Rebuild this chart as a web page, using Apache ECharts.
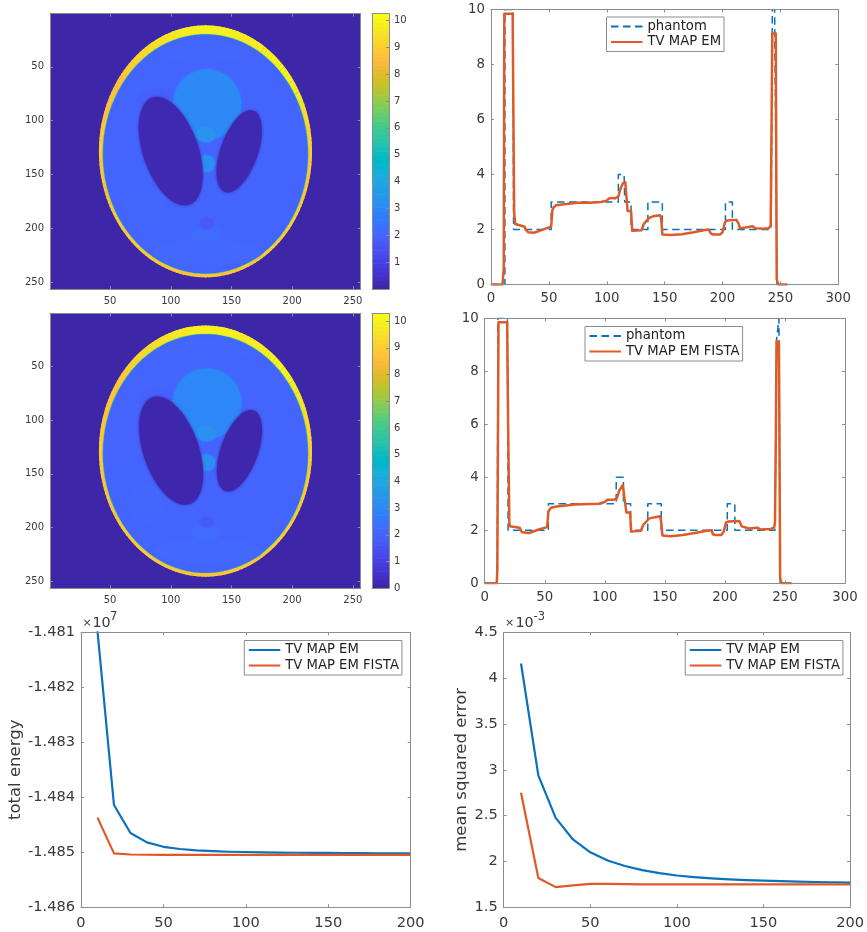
<!DOCTYPE html>
<html><head><meta charset="utf-8">
<style>html,body{margin:0;padding:0;background:#fff}#c{width:867px;height:932px}</style>
<script src="https://cdn.jsdelivr.net/npm/echarts@6/dist/echarts.min.js"></script>
</head><body><div id="c"></div>
<script>
// ---------- data ----------
const parula=[[.2422,.1504,.6603],[.2504,.165,.7076],[.2578,.1818,.7511],[.2647,.1978,.7952],[.2706,.2147,.8364],[.2751,.2342,.871],[.2783,.2559,.8991],[.2803,.2782,.9221],[.2813,.3006,.9414],[.281,.3228,.9579],[.2795,.3447,.9717],[.276,.3667,.9829],[.2699,.3892,.9906],[.2602,.4123,.9952],[.244,.4358,.9988],[.2206,.4603,.9973],[.1963,.4847,.9892],[.1834,.5074,.9798],[.1786,.5289,.9682],[.1764,.5499,.952],[.1687,.5703,.9359],[.154,.5902,.9218],[.146,.6091,.9079],[.138,.6276,.8973],[.1248,.6459,.8883],[.1113,.6635,.8763],[.0952,.6798,.8598],[.0689,.6948,.8394],[.0297,.7082,.8163],[.0036,.7203,.7917],[.0067,.7312,.766],[.0433,.7411,.7394],[.0964,.75,.712],[.1408,.7584,.6842],[.1717,.767,.6554],[.1938,.7758,.6251],[.2161,.7843,.5923],[.247,.7918,.5567],[.2906,.7973,.5188],[.3406,.8008,.4789],[.3909,.8029,.4354],[.4456,.8024,.3909],[.5044,.7993,.348],[.5616,.7942,.3045],[.6174,.7876,.2612],[.672,.7793,.2227],[.7242,.7698,.191],[.7738,.7598,.1646],[.8203,.7498,.1535],[.8634,.7406,.1596],[.9035,.733,.1774],[.9393,.7288,.21],[.9728,.7298,.2394],[.9956,.7434,.2371],[.997,.7659,.2199],[.9952,.7893,.2028],[.9892,.8136,.1885],[.9786,.8386,.1766],[.9676,.8639,.1643],[.961,.889,.1537],[.9597,.9135,.1423],[.9628,.9373,.1265],[.9691,.9606,.1064],[.9769,.9839,.0805]];

const imageTicks=[50,100,150,200,250];
const colorTicksEM=[1,2,3,4,5,6,7,8,9,10];
const colorTicksFISTA=[0,1,2,3,4,5,6,7,8,9,10];

// ring colour values clockwise from the top, one per 10 degrees
const ringEM=[10,10,9.8,9.9,10.1,10.1,9.9,9.5,9.1,8.9,8.8,8.8,9,9.1,9.1,9,8.9,8.8,8.8,8.8,8.9,9,9,9,8.9,8.7,8.8,9,8.9,8.7,8.7,9,9.3,9.5,9.7,9.9];
const ringFISTA=[10,10,9.8,9.9,10.1,10.1,9.9,9.5,9.2,9,8.9,8.9,9,9.1,9.1,9,8.9,8.8,8.8,8.8,8.9,9,9,9,8.9,8.8,8.9,9,8.9,8.8,8.8,9,9.3,9.5,9.7,9.9];
// outer ellipse of the head: cx, cy, rx, ry
const headEM=[128.6,128.6,87.8,117.1];
const headFISTA=[128.6,128.8,87.8,116.9];
// regions: cx, cy, rx, ry, tilt in degrees, value
const regionsEM=[
 [128.6,131,84.7,111.4,0,6],[128.6,131,84.2,110.9,0,2],
 [128,36,38,10,0,2.06],[130,222,45,12,0,2.08],[60,105,9,24,0,1.95],[78,178,16,18,0,2.04],
 [88,80,14,8,0,1.9],
 [130,85,28,32.6,0,3],[129,113,8,7,0,3.3],[129.5,140,7,7.7,0,3.15],
 [100,128.4,23,52,-16,.12],[156.4,128.6,15.5,39.6,16.5,.12],
 [129.5,206,12,7,0,2.2],[129.5,195.5,5.5,5.2,0,1.7]];
const regionsFISTA=[
 [128.6,131,84.7,111.4,0,6],[128.6,131,84.2,110.9,0,2],
 [128,36,36,10,0,2.06],[130,222,45,12,0,2.08],[60,105,9,24,0,1.95],[80,178,16,18,0,2.04],
 [88,80,14,8,0,1.9],
 [130,84.4,28.2,32.6,0,2.95],[129,112.6,8,7,0,3.25],[129.5,139.5,7,7.7,0,3.15],
 [100.3,128.4,23,52,-16,.05],[156.6,128.4,15.5,39.3,16.5,.05],
 [129.5,205,12,7,0,2.2],[129.5,194.8,5.5,5,0,1.7]];

const phantomA=[[0,0],[12,0],[12,10],[19,10],[19.5,2],[52,2],[52,3],[110,3],[110,4],[115,4],[115.5,3],[121,3],[121,2],[135.5,2],[135.5,3],[148,3],[148,2],[202.5,2],[202.5,3],[208.5,3],[208.5,2],[242,2],[243,10],[245,10],[247,0],[256,0]];
const reconA=[[0,0],[10,0],[11,.6],[11.5,9.85],[18.7,9.85],[20,2.6],[21,2.2],[22,2.15],[29,2.1],[30,2],[32,1.9],[37,1.88],[42,1.95],[47,2.03],[52,2.1],[53,2.7],[54,2.8],[56,2.88],[65,2.93],[75,2.97],[85,2.97],[95,3],[100,3.05],[102,3.13],[105,3.15],[107,3.13],[110,3.2],[112,3.5],[114,3.68],[116,3.72],[117,3.2],[118,2.67],[121,2.67],[122,1.95],[130,1.97],[132,2.2],[135,2.35],[137,2.43],[140,2.48],[146,2.52],[147,2.4],[148,1.82],[155,1.8],[165,1.83],[175,1.9],[185,1.98],[188,2],[190,1.85],[192,1.82],[198,1.82],[200,1.9],[202,2.25],[204,2.33],[212,2.35],[214,2.2],[215,2.05],[220,2.07],[226,2.12],[228,2.05],[235,2.03],[240,2.05],[241.6,2.15],[242.5,6.7],[243,9.13],[246,9.13],[246.8,.2],[248,0],[256,0]];
const phantomB=[[0,0],[10.5,0],[11,10],[18.9,10],[19.5,2],[53,2],[53,3],[109.5,3],[109.5,4],[115.5,4],[115.5,3],[121.5,3],[121.5,2],[135.8,2],[135.8,3],[147,3],[147,2],[202,2],[202,3],[208.3,3],[208.3,2],[241.7,2],[243,9.2],[245,10],[246,0],[255,0]];
const reconB=[[0,0],[10,0],[10.5,.5],[11.5,9.85],[18.7,9.85],[19.5,6],[20.5,2.3],[21,2.15],[29,2.1],[31,1.93],[37,1.9],[45,2.03],[52,2.12],[53,2.7],[55,2.85],[60,2.9],[75,2.97],[95,3],[100,3.07],[102,3.15],[107,3.15],[110,3.2],[112,3.5],[115,3.7],[116,3.73],[117,3],[118,2.67],[121,2.67],[122,1.95],[130,1.98],[132,2.2],[135,2.35],[137,2.45],[146,2.53],[147,2.3],[148,1.8],[155,1.78],[165,1.82],[175,1.9],[185,1.98],[189,2],[190,1.85],[192,1.82],[197,1.82],[199,1.95],[201,2.3],[203,2.33],[212,2.35],[214,2.15],[220,2.07],[227,2.1],[230,2.03],[238,2.05],[241,2.1],[241.7,2.3],[242.3,5],[243,9.12],[245,9.12],[246,.2],[247,0],[255.5,0]];

const iterations=[10,20,30,40,50,60,70,80,90,100,110,120,130,140,150,160,170,180,190,200];
const energyEM=[-1.48098,-1.48414,-1.48465,-1.48482,-1.4849,-1.48494,-1.484965,-1.48498,-1.48499,-1.484995,-1.485,-1.485005,-1.485008,-1.48501,-1.485012,-1.485014,-1.485016,-1.485018,-1.485019,-1.48502];
const energyFISTA=[-1.48437,-1.48502,-1.48504,-1.485045,-1.485045,-1.485045,-1.485045,-1.485045,-1.485045,-1.485045,-1.485045,-1.485045,-1.485045,-1.485045,-1.485045,-1.485045,-1.485045,-1.485045,-1.485045,-1.485045];
const mseEM=[4.16,2.94,2.475,2.24,2.1,2.01,1.95,1.905,1.872,1.847,1.83,1.816,1.805,1.796,1.79,1.785,1.78,1.776,1.773,1.77];
const mseFISTA=[2.75,1.82,1.72,1.74,1.755,1.755,1.752,1.751,1.75,1.75,1.75,1.75,1.75,1.75,1.75,1.75,1.75,1.75,1.75,1.75];

// ---------- helpers ----------
const AX='#8c8c8c', TXT='#3a3a3a', FONT='"DejaVu Sans"', BLUE='#0a72bd', ORANGE='#de5a26';
function colorOf(v,vmax){
 const t=Math.max(0,Math.min(1,v/vmax))*63,i=Math.min(62,Math.floor(t)),f=t-i;
 return 'rgb('+[0,1,2].map(n=>Math.round((parula[i][n]*(1-f)+parula[i+1][n]*f)*255)).join(',')+')';}
const VMAX=10.27;
const grids=[],xAxes=[],yAxes=[],series=[];
function panel(g,xo,yo,fs,marg,xmarg){
 const i=grids.length;
 grids.push(Object.assign({show:true,borderWidth:0},g));
 const base=(o,showLabel,pos,m)=>Object.assign({
   gridIndex:i,type:'value',position:pos,z:5,splitLine:{show:false},
   axisLine:{show:true,onZero:false,lineStyle:{color:AX,width:1}},
   axisTick:{show:true,inside:true,length:3,lineStyle:{color:AX}},
   axisLabel:{show:showLabel,color:TXT,fontFamily:FONT,fontSize:fs,margin:m,hideOverlap:false,showMinLabel:true,showMaxLabel:true},
 },o);
 const xi=xAxes.length, yi=yAxes.length;
 const xm=JSON.parse(JSON.stringify(xo)), ym=JSON.parse(JSON.stringify(yo));
 const fx=xo.fmt, fy=yo.fmt; delete xo.fmt; delete yo.fmt; delete xm.fmt; delete ym.fmt;
 const xa=base(xo,xo.noLabel?false:true,'bottom',xmarg), ya=base(yo,yo.noLabel?false:true,yo.pos||'left',marg);
 if(xo.custom){xa.axisLabel.customValues=xo.custom;xa.axisTick.customValues=xo.custom;}
 if(yo.custom){ya.axisLabel.customValues=yo.custom;ya.axisTick.customValues=yo.custom;}
 if(fy)ya.axisLabel.formatter=fy; if(fx)xa.axisLabel.formatter=fx;
 if(xo.noTick)xa.axisTick.show=false;
 if(yo.nameText){ya.name=yo.nameText;ya.nameLocation='middle';ya.nameRotate=90;ya.nameGap=yo.nameGap;ya.nameTextStyle={color:TXT,fontFamily:FONT,fontSize:16.5};}
 const xb=base(xm,false,'top',0), yb=base(ym,false,yo.pos==='right'?'left':'right',0);
 if(xo.custom)xb.axisTick.customValues=xo.custom;
 if(yo.custom)yb.axisTick.customValues=yo.custom;
 if(xo.noTick)xb.axisTick.show=false;
 if(yo.pos==='right')yb.axisTick.show=false;
 xAxes.push(xa,xb);yAxes.push(ya,yb);
 return {xAxisIndex:xi,yAxisIndex:yi};
}
function imagePanel(g,ring,head,regions){
 const idx=panel(Object.assign({backgroundColor:colorOf(0,VMAX)},g),
  {min:.5,max:256.5,custom:imageTicks},{min:.5,max:256.5,inverse:true,custom:imageTicks},10,6,7);
 series.push(Object.assign({type:'custom',silent:true,clip:true,animation:false,z:2,
  data:ring.map((v,k)=>[k,v]),
  renderItem(p,api){
   const k=api.value(0),v=api.value(1),next=ring[(k+1)%ring.length],children=[];
   for(let j=0;j<5;j++){
    const pts=[api.coord([head[0],head[1]])];
    for(let a=k*10+j*2-.4;a<=k*10+j*2+2.4;a+=.7){const r=a*Math.PI/180;
     pts.push(api.coord([head[0]+head[2]*Math.sin(r),head[1]-head[3]*Math.cos(r)]));}
    children.push({type:'polygon',shape:{points:pts},style:{fill:colorOf(v+(next-v)*j/5,VMAX)}});
   }
   return {type:'group',children};
  }},idx));
 series.push(Object.assign({type:'custom',silent:true,clip:true,animation:false,z:3,
  data:regions,
  renderItem(p,api){
   const cx=api.value(0),cy=api.value(1),rx=api.value(2),ry=api.value(3),t=api.value(4)*Math.PI/180,v=api.value(5),pts=[];
   for(let a=0;a<360;a+=4){const r=a*Math.PI/180,ex=rx*Math.cos(r),ey=ry*Math.sin(r);
    pts.push(api.coord([cx+ex*Math.cos(t)-ey*Math.sin(t),cy+ex*Math.sin(t)+ey*Math.cos(t)]));}
   const c=colorOf(v,VMAX);
   return {type:'polygon',shape:{points:pts},style:{fill:c,shadowBlur:ry>100?.8:3,shadowColor:c}};
  }},idx));
}
function colorbar(g,vmin,vmax,ticks){
 const idx=panel(g,{min:0,max:1,noLabel:true,noTick:true,custom:[0,1]},{min:vmin,max:vmax,custom:ticks,pos:'right'},10,5,0);
 series.push(Object.assign({type:'custom',silent:true,animation:false,z:2,
  data:parula.map((c,k)=>[k]),
  renderItem(p,api){
   const k=api.value(0),step=(vmax-vmin)/64;
   const a=api.coord([0,vmin+k*step]),b=api.coord([1,vmin+(k+1)*step]);
   return {type:'rect',shape:{x:a[0],y:b[1],width:b[0]-a[0],height:a[1]-b[1]+.6},style:{fill:colorOf(k/63,1)}};
  }},idx));
}
const legends=[];
function legend(left,top,names){
 legends.push({left,top,orient:'vertical',padding:[3,3,3,3.5],itemGap:2.5,itemWidth:31.5,itemHeight:14,
  itemStyle:{opacity:0},
  borderColor:AX,borderWidth:1,backgroundColor:'#fff',borderRadius:0,z:20,selectedMode:false,
  textStyle:{fontFamily:FONT,fontSize:13.2,color:'#222'},data:names,formatter:n=>n.trim()});
}
function lineS(name,data,idx,color,width,dash){
 series.push(Object.assign({type:'line',name,data,showSymbol:false,symbol:'none',animation:false,silent:true,clip:true,z:3,
  lineStyle:{color,width,type:dash?[7.5,4.5]:'solid',join:'round'},itemStyle:{color}},idx));
}
const pair=(xs,ys)=>xs.map((x,i)=>[x,ys[i]]);

// ---------- panels ----------
imagePanel({left:50,top:13.5,width:310.7,height:275.5},ringEM,headEM,regionsEM);
colorbar({left:372,top:13.5,width:17,height:275.5},.01,10.25,colorTicksEM);
const p3=panel({left:491,top:9.5,width:347.3,height:275},{min:0,max:300,interval:50},{min:0,max:10,interval:2},13.3,6,8);
lineS('phantom',phantomA,p3,BLUE,1.5,true);
lineS('TV MAP EM ',reconA,p3,ORANGE,2.5,false);
legend(606.5,17,['phantom','TV MAP EM ']);

imagePanel({left:50,top:313.3,width:310.7,height:275},ringFISTA,headFISTA,regionsFISTA);
colorbar({left:372,top:313.3,width:17,height:275},0,10.29,colorTicksFISTA);
const p4=panel({left:484.7,top:318.3,width:360.3,height:265},{min:0,max:300,interval:50},{min:0,max:10,interval:2},13.3,6,8);
lineS('phantom',phantomB,p4,BLUE,1.5,true);
lineS('TV MAP EM FISTA',reconB,p4,ORANGE,2.5,false);
legend(585,326.5,['phantom','TV MAP EM FISTA']);

const p5=panel({left:81,top:632.3,width:329.7,height:275},{min:0,max:200,interval:50},
 {min:-1.486,max:-1.481,interval:.001,fmt:v=>v.toFixed(3),nameText:'total energy',nameGap:57},14.6,6,8);
lineS('TV MAP EM',pair(iterations,energyEM),p5,BLUE,2.2,false);
lineS('TV MAP EM FISTA',pair(iterations,energyFISTA),p5,ORANGE,2.2,false);
legend(244.3,640.5,['TV MAP EM','TV MAP EM FISTA']);

const p6=panel({left:503.7,top:632.3,width:347.6,height:275},{min:0,max:200,interval:50},
 {min:1.5,max:4.5,interval:.5,nameText:'mean squared error',nameGap:32.5},14.6,6,8);
lineS('TV MAP EM',pair(iterations,mseEM),p6,BLUE,2.2,false);
lineS('TV MAP EM FISTA',pair(iterations,mseFISTA),p6,ORANGE,2.2,false);
legend(685.3,640.5,['TV MAP EM','TV MAP EM FISTA']);

const tx=(x,y,text,size,color)=>({type:'text',x,y,z:30,style:{text,fill:color||TXT,fontFamily:FONT,fontSize:size,verticalAlign:'middle'}});
const chart=echarts.init(document.getElementById('c'),null,{renderer:'canvas',width:867,height:932});
chart.setOption({animation:false,backgroundColor:'#fff',grid:grids,xAxis:xAxes,yAxis:yAxes,series,legend:legends,
 graphic:[tx(82.5,623,'×',11),tx(92.5,623,'10',14.3),tx(110,617,'7',11.5),
          tx(505,623,'×',11),tx(515.5,623,'10',14.3),tx(533.5,617,'-3',11.5)]});
</script></body></html>
